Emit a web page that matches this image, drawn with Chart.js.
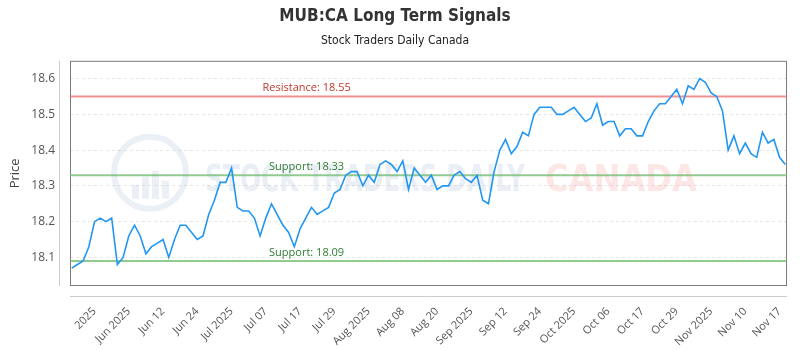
<!DOCTYPE html>
<html>
<head>
<meta charset="utf-8">
<script src="https://cdn.jsdelivr.net/npm/chart.js@4.4.1/dist/chart.umd.min.js"></script>
<style>
  html, body { margin: 0; padding: 0; background: #fff; }
</style>
</head>
<body>
<canvas id="chart" width="800" height="350"></canvas>
<script>
// daily closes, one per trading day (late May -> mid Nov 2025)
const prices = [
  18.07, 18.08, 18.09, 18.13, 18.20, 18.21, 18.20, 18.21, 18.08, 18.10,
  18.16, 18.19, 18.16, 18.11, 18.13, 18.14, 18.15, 18.10, 18.15, 18.19,
  18.19, 18.17, 18.15, 18.16, 18.22, 18.26, 18.31, 18.31, 18.35, 18.24,
  18.23, 18.23, 18.21, 18.16, 18.21, 18.25, 18.22, 18.19, 18.17, 18.13,
  18.18, 18.21, 18.24, 18.22, 18.23, 18.24, 18.28, 18.29, 18.33, 18.34,
  18.34, 18.30, 18.33, 18.31, 18.36, 18.37, 18.36, 18.34, 18.37, 18.29,
  18.35, 18.33, 18.31, 18.33, 18.29, 18.30, 18.30, 18.33, 18.34, 18.32,
  18.31, 18.33, 18.26, 18.25, 18.34, 18.40, 18.43, 18.39, 18.41, 18.45,
  18.44, 18.50, 18.52, 18.52, 18.52, 18.50, 18.50, 18.51, 18.52, 18.50,
  18.48, 18.49, 18.53, 18.47, 18.48, 18.48, 18.44, 18.46, 18.46, 18.44,
  18.44, 18.48, 18.51, 18.53, 18.53, 18.55, 18.57, 18.53, 18.58, 18.57,
  18.60, 18.59, 18.56, 18.55, 18.51, 18.40, 18.44, 18.39, 18.42, 18.39,
  18.38, 18.45, 18.42, 18.43, 18.38, 18.36
];

const tickIdx = [4, 10, 16, 22, 28, 34, 40, 46, 52, 58, 64, 70, 76, 82, 88, 94, 100, 106, 112, 118, 124];
const tickLabels = ['2025', 'Jun 2025', 'Jun 12', 'Jun 24', 'Jul 2025', 'Jul 07', 'Jul 17', 'Jul 29',
  'Aug 2025', 'Aug 08', 'Aug 20', 'Sep 2025', 'Sep 12', 'Sep 24', 'Oct 2025', 'Oct 06', 'Oct 17',
  'Oct 29', 'Nov 2025', 'Nov 10', 'Nov 17'];
const yTicks = [18.1, 18.2, 18.3, 18.4, 18.5, 18.6];

const levelNames = ['Resistance', 'Support', 'Support'];
const levelValues = [18.55, 18.33, 18.09];

const lineColor = {Resistance: 'rgba(236, 110, 110, 0.75)', Support: 'rgba(110, 185, 110, 0.75)'};
const textColor = {Resistance: '#c0392b', Support: '#2e7d32'};

const xMin = -0.3;
const xMax = prices.length - 1 + 0.3;

let datasets = [{
  label: 'Price',
  data: prices.map((p, i) => ({x: i, y: p})),
  borderColor: '#2196f3',
  borderWidth: 1.6,
  pointRadius: 0,
  tension: 0,
  order: 0,
}];

levelValues.forEach((v, i) => {
  datasets.push({
    label: levelNames[i],
    data: [{x: xMin, y: v}, {x: xMax, y: v}],
    borderColor: lineColor[levelNames[i]],
    borderWidth: 2,
    pointRadius: 0,
    order: 1,
  });
});

const framePlugin = {
  id: 'frame',
  beforeDatasetsDraw(chart) {
    const {ctx, chartArea: a} = chart;
    ctx.save();
    // watermark
    const cx = a.left + 80, cy = a.top + 112;
    ctx.globalAlpha = 0.12;
    ctx.strokeStyle = '#5b7fb5';
    ctx.lineWidth = 6;
    ctx.beginPath();
    ctx.arc(cx, cy, 36, 0, Math.PI * 2);
    ctx.stroke();
    ctx.fillStyle = '#5b7fb5';
    [[-18, 10], [-8, 18], [2, 24], [12, 14]].forEach(b => {
      ctx.fillRect(cx + b[0], cy + 26 - b[1] - 4, 7, b[1] + 4);
    });
    ctx.globalAlpha = 0.13;
    ctx.font = 'bold 38px "DejaVu Sans Condensed", "Liberation Sans Narrow", sans-serif';
    ctx.textBaseline = 'middle';
    ctx.textAlign = 'left';
    let s1 = 'STOCK TRADERS DAILY';
    let w1 = ctx.measureText(s1).width;
    ctx.setTransform(320 / w1, 0, 0, 1, a.left + 135, cy + 8);
    ctx.fillStyle = '#5b7fb5';
    ctx.fillText(s1, 0, 0);
    ctx.setTransform(1, 0, 0, 1, 0, 0);
    ctx.globalAlpha = 0.12;
    let s2 = 'CANADA';
    let w2 = ctx.measureText(s2).width;
    ctx.setTransform(152 / w2, 0, 0, 1, a.left + 475, cy + 8);
    ctx.fillStyle = '#e53935';
    ctx.fillText(s2, 0, 0);
    ctx.setTransform(1, 0, 0, 1, 0, 0);
    ctx.globalAlpha = 1;

    // plot frame + outer axis lines
    ctx.strokeStyle = '#cccccc';
    ctx.lineWidth = 1;
    ctx.beginPath();
    ctx.moveTo(a.left - 10.5, a.top);
    ctx.lineTo(a.left - 10.5, a.bottom);
    ctx.moveTo(a.left, a.bottom + 10.5);
    ctx.lineTo(a.right, a.bottom + 10.5);
    ctx.stroke();
    ctx.strokeStyle = '#7a7a7a';
    ctx.strokeRect(a.left + 0.5, a.top + 0.5, a.right - a.left - 1, a.bottom - a.top - 1);
    ctx.restore();
  },
  afterDatasetsDraw(chart) {
    const {ctx, chartArea: a, scales} = chart;
    ctx.save();
    ctx.font = '11px "Open Sans", sans-serif';
    ctx.textAlign = 'center';
    ctx.textBaseline = 'middle';
    const lx = a.left + (a.right - a.left) * 0.33;
    levelValues.forEach((v, i) => {
      const y = scales.y.getPixelForValue(v);
      ctx.fillStyle = textColor[levelNames[i]];
      ctx.fillText(levelNames[i] + ': ' + v.toFixed(2), lx, y - 8.5);
    });
    ctx.restore();
  }
};

new Chart(document.getElementById('chart'), {
  type: 'line',
  data: {datasets: datasets},
  options: {
    responsive: false,
    animation: false,
    layout: {padding: {left: 0, right: 10, top: 0, bottom: 0}},
    plugins: {
      legend: {display: false},
      tooltip: {enabled: false},
      title: {
        display: true,
        text: 'MUB:CA Long Term Signals',
        color: '#333',
        font: {family: '"Liberation Sans Narrow", "DejaVu Sans Condensed", sans-serif', size: 17, weight: 'bold'},
        padding: {top: 6, bottom: 6},
      },
      subtitle: {
        display: true,
        text: 'Stock Traders Daily Canada',
        color: '#222',
        font: {family: '"Liberation Sans Narrow", "DejaVu Sans Condensed", sans-serif', size: 12},
        padding: {top: 1, bottom: 13},
      },
    },
    scales: {
      x: {
        type: 'linear',
        min: xMin,
        max: xMax,
        grid: {display: false},
        border: {display: false},
        afterBuildTicks: (axis) => {
          axis.ticks = tickIdx.map(v => ({value: v}));
        },
        afterFit: (axis) => { axis.height = 64; },
        ticks: {
          autoSkip: false,
          minRotation: 45,
          maxRotation: 45,
          padding: 11,
          color: '#555',
          font: {family: '"Open Sans", sans-serif', size: 11},
          callback: (v) => tickLabels[tickIdx.indexOf(v)],
        },
      },
      y: {
        min: 18.02,
        max: 18.65,
        afterBuildTicks: (axis) => {
          axis.ticks = yTicks.map(v => ({value: v}));
        },
        afterFit: (axis) => { axis.width = 70; },
        grid: {color: '#e6e6e6', drawTicks: false},
        border: {display: false, dash: [3, 3]},
        ticks: {
          padding: 15,
          color: '#555',
          font: {family: '"Open Sans", sans-serif', size: 12},
          callback: (v) => v.toFixed(1),
        },
        title: {
          display: true,
          text: 'Price',
          color: '#444',
          font: {family: '"Open Sans", sans-serif', size: 13},
          padding: {top: 7, bottom: 0},
        },
      },
    },
  },
  plugins: [framePlugin],
});
</script>
</body>
</html>
